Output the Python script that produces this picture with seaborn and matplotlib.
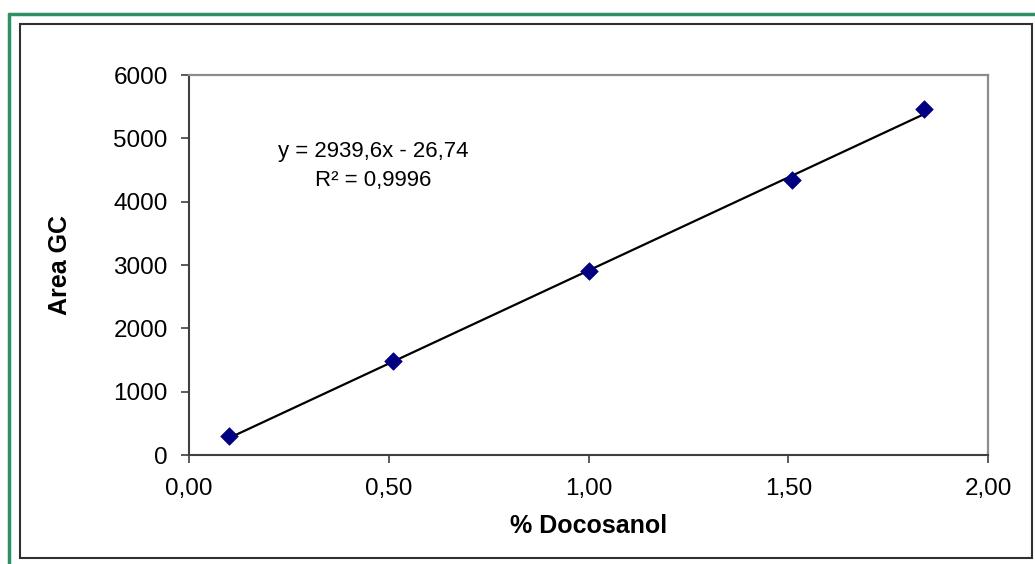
import matplotlib
matplotlib.use("Agg")
import matplotlib.pyplot as plt
import seaborn as sns
import numpy as np
import pandas as pd
from matplotlib.patches import Rectangle
from matplotlib.lines import Line2D
from matplotlib.ticker import FuncFormatter

# Calibration data
concentration = [0.10, 0.51, 1.00, 1.51, 1.84]
area = [300, 1480, 2900, 4350, 5460]

# Linear trendline
slope = 2939.6
intercept = -26.74
r_squared = 0.9996

x_ticks = [0.0, 0.5, 1.0, 1.5, 2.0]
y_ticks = [0, 1000, 2000, 3000, 4000, 5000, 6000]

df = pd.DataFrame({"conc": concentration, "area": area})

sns.set_style("white")
plt.rcParams["font.family"] = ["Liberation Sans", "DejaVu Sans"]
plt.rcParams.update({"text.color": "black", "axes.labelcolor": "black",
                     "xtick.labelcolor": "black", "ytick.labelcolor": "black"})

fig = plt.figure(figsize=(10.35, 5.64), dpi=100)
ax = fig.add_axes([189 / 1035, 1 - 455 / 564, (988 - 189) / 1035, (455 - 75) / 564])

# Trendline from the fitted equation
xl = np.array([min(concentration), max(concentration)])
ax.plot(xl, slope * xl + intercept, color="black", lw=1.6, zorder=2)

sns.scatterplot(data=df, x="conc", y="area", ax=ax, marker="D", s=80,
                color="#000080", edgecolor="#000080", linewidth=0.5, zorder=3)

ax.set_xlim(0, 2)
ax.set_ylim(0, 6000)
ax.set_xticks(x_ticks)
ax.set_yticks(y_ticks)
ax.xaxis.set_major_formatter(FuncFormatter(lambda v, p: f"{v:.2f}".replace(".", ",")))
ax.yaxis.set_major_formatter(FuncFormatter(lambda v, p: f"{int(v)}"))
ax.tick_params(axis="both", labelsize=17.5, direction="out", length=5.8, width=1.2,
               color="#404040", left=True, bottom=True)
ax.tick_params(axis="x", pad=11)
ax.tick_params(axis="y", pad=9.5)

for side in ["left", "bottom"]:
    ax.spines[side].set_color("#404040")
    ax.spines[side].set_linewidth(1.5)
for side in ["top", "right"]:
    ax.spines[side].set_visible(True)
    ax.spines[side].set_color("#8c8c8c")
    ax.spines[side].set_linewidth(1.6)

ax.set_xlabel("% Docosanol", fontsize=18, fontweight="bold", labelpad=10)
ax.set_ylabel("Area GC", fontsize=18, fontweight="bold", labelpad=30)

ax.text(0.46, 4790, f"y = {slope:.1f}x - {abs(intercept):.2f}".replace(".", ","),
        fontsize=16, ha="center", va="center")
ax.text(0.46, 4330, f"R² = {r_squared:.4f}".replace(".", ","),
        fontsize=16, ha="center", va="center")

# Outer chart frame and green border
fig.patches.append(Rectangle((20 / 1035, 1 - 558 / 564), (1032 - 20) / 1035, (558 - 24) / 564,
                             transform=fig.transFigure, fill=False, edgecolor="#303030", lw=1.5))
fig.lines.append(Line2D([8.5 / 1035, 1.0], [1 - 13.5 / 564, 1 - 13.5 / 564],
                        transform=fig.transFigure, color="#2E9163", lw=2.5))
fig.lines.append(Line2D([8.5 / 1035, 8.5 / 1035], [0.0, 1 - 13.5 / 564],
                        transform=fig.transFigure, color="#2E9163", lw=2.5))

fig.savefig("out.png", dpi=100)
